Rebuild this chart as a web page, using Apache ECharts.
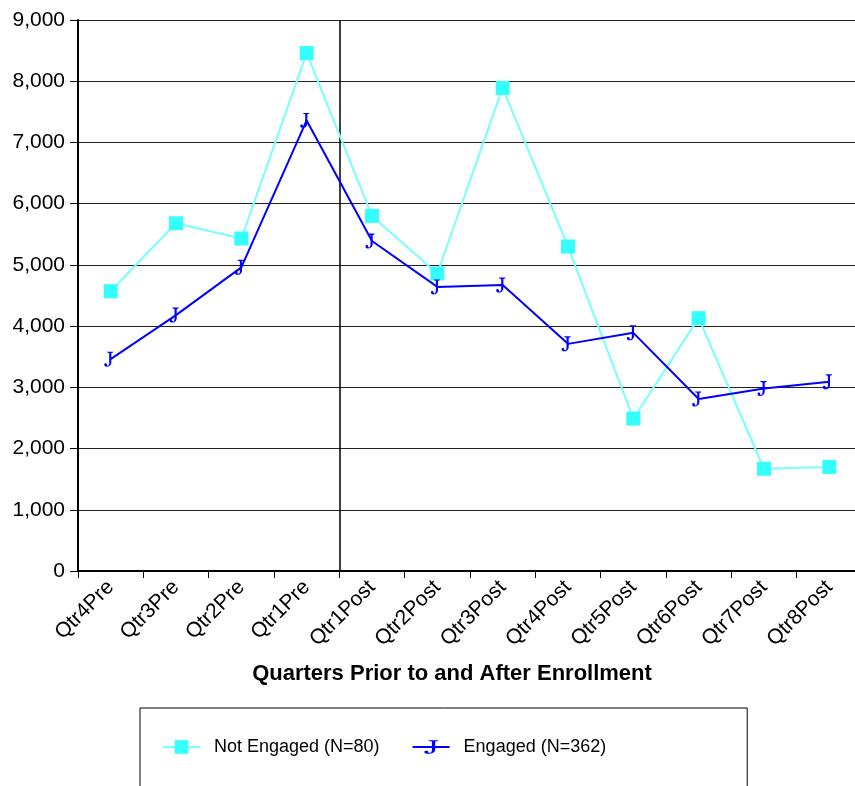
<!DOCTYPE html>
<html>
<head>
<meta charset="utf-8">
<script src="https://cdn.jsdelivr.net/npm/echarts@6/dist/echarts.min.js"></script>
<style>html,body{margin:0;padding:0;background:#fff;}#c{width:855px;height:786px;}</style>
</head>
<body>
<div id="c"></div>
<script>
var categories = ['Qtr4Pre','Qtr3Pre','Qtr2Pre','Qtr1Pre','Qtr1Post','Qtr2Post','Qtr3Post','Qtr4Post','Qtr5Post','Qtr6Post','Qtr7Post','Qtr8Post'];
var notEngaged = [4570, 5680, 5430, 8460, 5800, 4860, 7890, 5300, 2490, 4130, 1670, 1700];
var engaged = [3460, 4180, 4960, 7360, 5390, 4640, 4670, 3710, 3890, 2810, 2980, 3090];
var yTicks = [0, 1000, 2000, 3000, 4000, 5000, 6000, 7000, 8000, 9000];
var seriesNames = ['Not Engaged (N=80)', 'Engaged (N=362)'];
var axisTitle = 'Quarters Prior to and After Enrollment';

var jPath = 'path://M3,0 L10,0 L10,1 L8,1.5 L8,11 C8,14.5 5.5,16 3,16 C1,16 0,15 0,13.8 C0,12.8 0.8,12.3 1.6,12.3 C2.5,12.3 3,13 3,13.8 C3,14.5 3.3,14.9 4,14.9 C5,14.9 5.6,13.8 5.6,11 L5.6,1.5 L3.5,1 Z';
var font = '"Liberation Sans", Arial, Helvetica, sans-serif';

var chart = echarts.init(document.getElementById('c'));
chart.setOption({
  animation: false,
  backgroundColor: '#fff',
  grid: { left: 78, width: 784, top: 20, height: 551, containLabel: false, outerBoundsMode: 'none' },
  legend: {
    left: 140, top: 708,
    padding: [30, 141, 60, 22],
    borderColor: '#000', borderWidth: 1,
    itemWidth: 37, itemHeight: 17, itemGap: 32,
    textStyle: { fontFamily: font, fontSize: 18, color: '#000', padding: [0, 0, 0, 9] },
    data: seriesNames
  },
  xAxis: {
    type: 'category',
    data: categories,
    boundaryGap: true,
    name: axisTitle,
    nameLocation: 'middle',
    nameGap: 92,
    nameTextStyle: { fontFamily: font, fontSize: 22, fontWeight: 'bold', color: '#000', padding: [0, 36, 0, 0] },
    axisLine: { lineStyle: { color: '#000', width: 2 } },
    axisTick: { show: true, length: 7, inside: false, lineStyle: { color: '#000', width: 1 } },
    axisLabel: { rotate: 45, fontFamily: font, fontSize: 21, color: '#000', margin: 13, interval: 0 },
    splitLine: { show: true, interval: function (i) { return i === 0 || i === 4; }, lineStyle: { color: '#000', width: 1.5 } }
  },
  yAxis: {
    type: 'value',
    min: yTicks[0], max: yTicks[yTicks.length - 1], interval: 1000,
    axisLine: { show: true, lineStyle: { color: '#000', width: 2 } },
    axisTick: { show: true, length: 8, lineStyle: { color: '#000' } },
    axisLabel: { fontFamily: font, fontSize: 21, color: '#000', margin: 13,
      formatter: function (v) { return v.toLocaleString('en-US'); } },
    splitLine: { show: true, lineStyle: { color: '#222', width: 1 } }
  },
  series: [
    {
      name: seriesNames[0], type: 'line', data: notEngaged,
      symbol: 'rect', symbolSize: 14,
      lineStyle: { color: '#77ffff', width: 2 },
      itemStyle: { color: '#33ffff' }
    },
    {
      name: seriesNames[1], type: 'line', data: engaged,
      symbol: jPath, symbolSize: [9, 15], symbolOffset: [-2, 0],
      lineStyle: { color: '#0000ff', width: 2 },
      itemStyle: { color: '#0000ff' }
    }
  ]
});
</script>
</body>
</html>
